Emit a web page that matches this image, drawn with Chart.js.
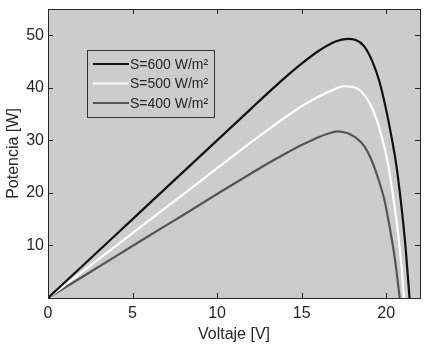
<!DOCTYPE html>
<html>
<head>
<meta charset="utf-8">
<script src="https://cdn.jsdelivr.net/npm/chart.js@4/dist/chart.umd.min.js"></script>
<style>
html,body{margin:0;padding:0;background:#fff;}
#wrap{width:431px;height:345px;}
</style>
</head>
<body>
<div id="wrap"><canvas id="chartPV" width="431" height="345"></canvas></div>
<script>

/* datos */

const seriesLabels = ["S=600 W/m²", "S=500 W/m²", "S=400 W/m²"];

const volt600  = [0, 2, 4, 6, 8, 10, 12, 13, 14, 15, 16, 17, 17.7, 18.2, 18.7, 19.2, 19.6, 20.0, 20.3, 20.6, 20.9, 21.15, 21.38];
const power600 = [0, 6.0, 12.0, 18.0, 24.0, 30.0, 36.0, 39.0, 41.9, 44.6, 47.0, 48.8, 49.3, 49.1, 47.9, 44.9, 41.2, 35.8, 30.9, 25.3, 17.5, 9.5, 0];

const volt500  = [0, 2, 4, 6, 8, 10, 12, 13, 14, 15, 16, 17, 17.5, 18, 18.5, 19, 19.4, 19.8, 20.1, 20.44, 20.7, 20.9, 21.05];
const power500 = [0, 4.94, 9.88, 14.8, 19.7, 24.7, 29.6, 32.0, 34.3, 36.5, 38.3, 39.8, 40.3, 40.2, 39.4, 37.2, 34.3, 29.9, 25.7, 18.7, 12.4, 6.3, 0];

const volt400  = [0, 2, 4, 6, 8, 10, 12, 13, 14, 15, 16, 16.5, 17.1, 17.7, 18.2, 18.7, 19.1, 19.5, 19.9, 20.2, 20.5, 20.8];
const power400 = [0, 3.96, 7.92, 11.9, 15.8, 19.8, 23.7, 25.6, 27.4, 29.1, 30.6, 31.2, 31.7, 31.4, 30.5, 28.9, 26.5, 23.0, 18.6, 13.6, 7.8, 0];

const xTicks = [0, 5, 10, 15, 20];
const yTicks = [10, 20, 30, 40, 50];

/* estilos */

const axisColor = "#262626";
const plotBg = "#cccccc";
const lineColors = ["#111111", "#ffffff", "#555555"];
const fontFamily = "'Liberation Sans', Arial, sans-serif";

function toPoints(xs, ys){
return xs.map((v,i)=>({x:v, y:ys[i]}));
}

/* fondo, marco, ticks hacia adentro y leyenda */

const matlabFrame = {
id:"matlabFrame",
beforeDraw(chart){
let ctx = chart.ctx, a = chart.chartArea;
ctx.save();
ctx.fillStyle = plotBg;
ctx.fillRect(a.left, a.top, a.right-a.left, a.bottom-a.top);
ctx.restore();
},
afterDraw(chart){
let ctx = chart.ctx, a = chart.chartArea;
let sx = chart.scales.x, sy = chart.scales.y;
let tl = 5;

ctx.save();
ctx.strokeStyle = axisColor;
ctx.lineWidth = 1;

ctx.beginPath();
sx.ticks.forEach(t=>{
let px = Math.round(sx.getPixelForValue(t.value))+0.5;
ctx.moveTo(px, a.bottom); ctx.lineTo(px, a.bottom-tl);
ctx.moveTo(px, a.top); ctx.lineTo(px, a.top+tl);
});
sy.ticks.forEach(t=>{
let py = Math.round(sy.getPixelForValue(t.value))+0.5;
ctx.moveTo(a.left, py); ctx.lineTo(a.left+tl, py);
ctx.moveTo(a.right, py); ctx.lineTo(a.right-tl, py);
});
ctx.stroke();

ctx.strokeRect(Math.round(a.left)+0.5, Math.round(a.top)+0.5,
Math.round(a.right-a.left), Math.round(a.bottom-a.top));

/* leyenda */

let bx = 87, by = 50, bw = 127, bh = 67;
ctx.fillStyle = plotBg;
ctx.fillRect(bx, by, bw, bh);
ctx.strokeStyle = "#333333";
ctx.strokeRect(bx+0.5, by+0.5, bw, bh);

ctx.font = "14px " + fontFamily;
ctx.textBaseline = "middle";
ctx.textAlign = "left";

chart.data.datasets.forEach((ds,i)=>{
let yy = by + 14 + i*19.5;
ctx.strokeStyle = ds.borderColor;
ctx.lineWidth = 2;
ctx.beginPath();
ctx.moveTo(93, yy);
ctx.lineTo(129, yy);
ctx.stroke();
ctx.fillStyle = axisColor;
ctx.fillText(ds.label, 130, yy+1);
});

ctx.restore();
}
};

/* grafico */

const datasets = [
toPoints(volt600, power600),
toPoints(volt500, power500),
toPoints(volt400, power400)
].map((pts,i)=>({
label:seriesLabels[i],
data:pts,
borderColor:lineColors[i],
borderWidth:2.2,
pointRadius:0,
fill:false,
cubicInterpolationMode:"monotone"
}));

new Chart(document.getElementById("chartPV"),{
type:"line",
data:{datasets:datasets},
options:{
responsive:false,
animation:false,
devicePixelRatio:1,
layout:{padding:{top:9,right:11,left:0,bottom:0}},
plugins:{
legend:{display:false},
tooltip:{enabled:false}
},
scales:{
x:{
type:"linear",
min:0,
max:22,
afterBuildTicks:(s)=>{ s.ticks = xTicks.map(v=>({value:v})); },
afterFit:(s)=>{ s.height = 47; s.paddingLeft = 0; s.paddingRight = 0; },
grid:{display:false, drawTicks:false, tickLength:0},
border:{display:false},
ticks:{
color:axisColor,
padding:6,
font:{family:fontFamily,size:16}
},
title:{
display:true,
text:"Voltaje [V]",
color:axisColor,
padding:{top:0,bottom:1},
font:{family:fontFamily,size:16}
}
},
y:{
type:"linear",
min:0,
max:55,
afterBuildTicks:(s)=>{ s.ticks = yTicks.map(v=>({value:v})); },
afterFit:(s)=>{ s.width = 48; s.paddingTop = 0; s.paddingBottom = 0; },
grid:{display:false, drawTicks:false, tickLength:0},
border:{display:false},
ticks:{
color:axisColor,
padding:4,
font:{family:fontFamily,size:16}
},
title:{
display:true,
text:"Potencia [W]",
color:axisColor,
padding:{top:4,bottom:0},
font:{family:fontFamily,size:16}
}
}
}
},
plugins:[matlabFrame]
});

</script>
</body>
</html>
